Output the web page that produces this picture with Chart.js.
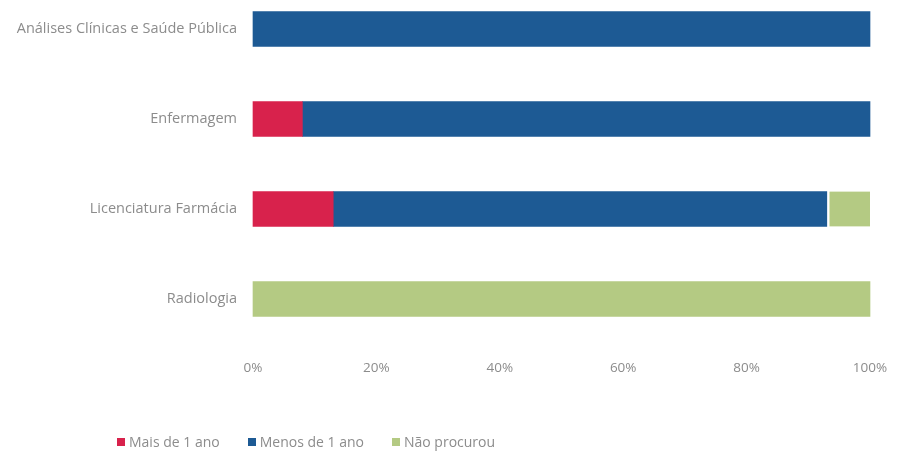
<!DOCTYPE html>
<html>
<head>
<meta charset="utf-8">
<script src="https://cdn.jsdelivr.net/npm/chart.js@4/dist/chart.umd.min.js"></script>
<style>
  body { margin: 0; background: #fff; }
  #wrap { position: relative; width: 898px; height: 453px; }
  #legend { position: absolute; left: 117px; top: 432px; font: 14px "Open Sans", sans-serif; color: #8c8c8c; white-space: nowrap; }
  #legend span.item { margin-right: 28px; }
  #legend i { display: inline-block; width: 8px; height: 8px; margin-right: 4px; vertical-align: 1px; }
</style>
</head>
<body>
<div id="wrap">
  <canvas id="chart" width="898" height="453"></canvas>
  <div id="legend"></div>
</div>
<script>
const categories = ["Análises Clínicas e Saúde Pública", "Enfermagem", "Licenciatura Farmácia", "Radiologia"];
const seriesNames = ["Mais de 1 ano", "Menos de 1 ano", "Não procurou"];
const maisDe1Ano = [0, 8, 13, 0];
const menosDe1Ano = [100, 92, 80, 0];
const naoProcurou = [0, 0, 7, 100];
const xTicks = [0, 20, 40, 60, 80, 100];
const colors = ["#d8224c", "#1d5a94", "#b4ca83"];

const values = [maisDe1Ano, menosDe1Ano, naoProcurou];
const datasets = seriesNames.map((name, i) => ({
    label: name,
    data: values[i].map(v => v === 0 ? null : v),
    backgroundColor: colors[i],
    borderColor: "#ffffff",
    // thin white gap between blue and green where both exist
    borderWidth: (ctx) => (i === 2 && menosDe1Ano[ctx.dataIndex] > 0) ? { left: 3, right: 0, top: 0, bottom: 0 } : 0,
    borderSkipped: false,
    barThickness: 35,
    clip: false
}));

new Chart(document.getElementById("chart"), {
    type: "bar",
    data: { labels: categories, datasets: datasets },
    options: {
        indexAxis: "y",
        responsive: false,
        animation: false,
        layout: { padding: { top: 29, right: 28, bottom: 64, left: 0 } },
        plugins: { legend: { display: false }, tooltip: { enabled: false } },
        scales: {
            x: {
                stacked: true,
                min: 0,
                max: 100,
                grid: { display: false },
                border: { display: false },
                afterBuildTicks: (scale) => { scale.ticks = xTicks.map(v => ({ value: v })); },
                afterFit: (scale) => { scale.height = 90; scale.paddingRight = 0; scale.paddingLeft = 0; },
                ticks: {
                    padding: 53,
                    maxRotation: 0,
                    minRotation: 0,
                    color: "#8c8c8c",
                    font: { family: "Open Sans", size: 13.5 },
                    callback: (v) => v + "%"
                }
            },
            y: {
                stacked: true,
                offset: false,
                grid: { display: false },
                border: { display: false },
                afterFit: (scale) => { scale.width = 253; },
                ticks: {
                    padding: 8,
                    color: "#8c8c8c",
                    font: { family: "Open Sans", size: 14.5 }
                }
            }
        }
    }
});

document.getElementById("legend").innerHTML = seriesNames.map((name, i) =>
    '<span class="item"><i style="background:' + colors[i] + '"></i>' + name + '</span>').join("");
</script>
</body>
</html>
